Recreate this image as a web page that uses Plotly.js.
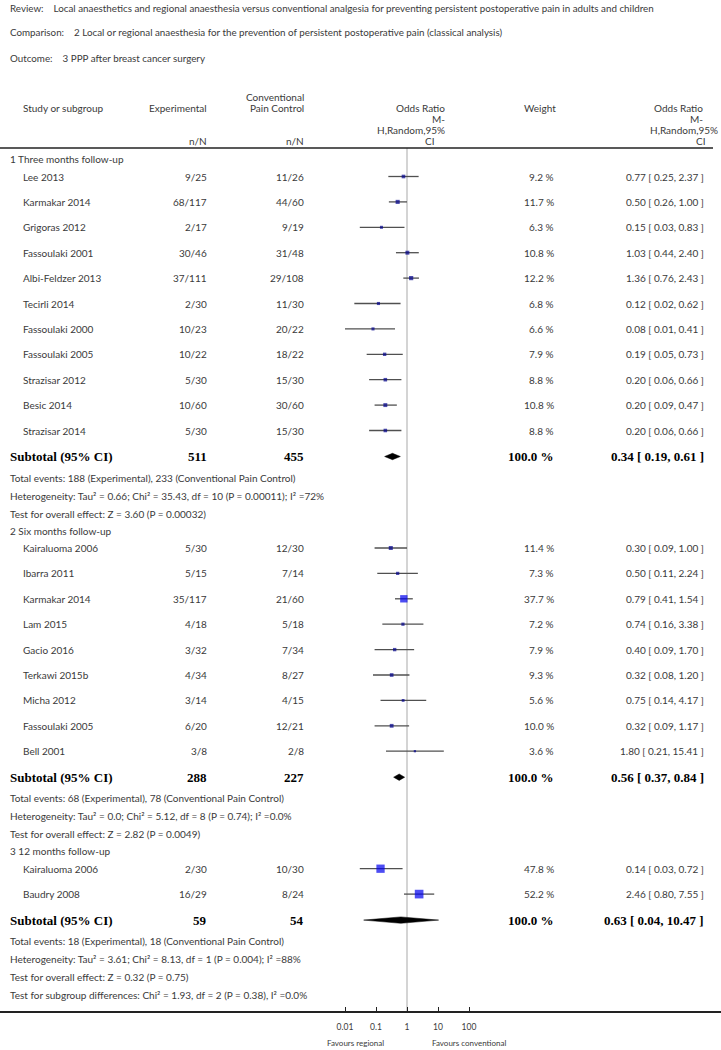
<!DOCTYPE html>
<html>
<head>
<meta charset="utf-8">
<script src="https://cdn.plot.ly/plotly-3.0.1.min.js"></script>
<style>
  html, body { margin: 0; padding: 0; background: #fff; }
  #plotDiv { width: 721px; height: 1050px; }
</style>
</head>
<body>
<div id="plotDiv"></div>
<script>
// ---- data ----
var reviewText = 'Local anaesthetics and regional anaesthesia versus conventional analgesia for preventing persistent postoperative pain in adults and children';
var comparisonText = '2 Local or regional anaesthesia for the prevention of persistent postoperative pain (classical analysis)';
var outcomeText = '3 PPP after breast cancer surgery';

var groupTitles = ['1 Three months follow-up', '2 Six months follow-up', '3 12 months follow-up'];

var studyGroup = [0,0,0,0,0,0,0,0,0,0,0, 1,1,1,1,1,1,1,1,1, 2,2];
var studyNames = ['Lee 2013','Karmakar 2014','Grigoras 2012','Fassoulaki 2001','Albi-Feldzer 2013','Tecirli 2014',
  'Fassoulaki 2000','Fassoulaki 2005','Strazisar 2012','Besic 2014','Strazisar 2014',
  'Kairaluoma 2006','Ibarra 2011','Karmakar 2014','Lam 2015','Gacio 2016','Terkawi 2015b','Micha 2012',
  'Fassoulaki 2005','Bell 2001',
  'Kairaluoma 2006','Baudry 2008'];
var expEvents = ['9/25','68/117','2/17','30/46','37/111','2/30','10/23','10/22','5/30','10/60','5/30',
  '5/30','5/15','35/117','4/18','3/32','4/34','3/14','6/20','3/8',
  '2/30','16/29'];
var ctrlEvents = ['11/26','44/60','9/19','31/48','29/108','11/30','20/22','18/22','15/30','30/60','15/30',
  '12/30','7/14','21/60','5/18','7/34','8/27','4/15','12/21','2/8',
  '10/30','8/24'];
var weights = [9.2,11.7,6.3,10.8,12.2,6.8,6.6,7.9,8.8,10.8,8.8,
  11.4,7.3,37.7,7.2,7.9,9.3,5.6,10.0,3.6,
  47.8,52.2];
var orEst = [0.77,0.50,0.15,1.03,1.36,0.12,0.08,0.19,0.20,0.20,0.20,
  0.30,0.50,0.79,0.74,0.40,0.32,0.75,0.32,1.80,
  0.14,2.46];
var orLow = [0.25,0.26,0.03,0.44,0.76,0.02,0.01,0.05,0.06,0.09,0.06,
  0.09,0.11,0.41,0.16,0.09,0.08,0.14,0.09,0.21,
  0.03,0.80];
var orHigh = [2.37,1.00,0.83,2.40,2.43,0.62,0.41,0.73,0.66,0.47,0.66,
  1.00,2.24,1.54,3.38,1.70,1.20,4.17,1.17,15.41,
  0.72,7.55];

var subExpTotal = [511, 288, 59];
var subCtrlTotal = [455, 227, 54];
var subEst = [0.34, 0.56, 0.63];
var subLow = [0.19, 0.37, 0.04];
var subHigh = [0.61, 0.84, 10.47];
var totalEventsText = [
  'Total events: 188 (Experimental), 233 (Conventional Pain Control)',
  'Total events: 68 (Experimental), 78 (Conventional Pain Control)',
  'Total events: 18 (Experimental), 18 (Conventional Pain Control)'];
var heterogeneityText = [
  'Heterogeneity: Tau² = 0.66; Chi² = 35.43, df = 10 (P = 0.00011); I² =72%',
  'Heterogeneity: Tau² = 0.0; Chi² = 5.12, df = 8 (P = 0.74); I² =0.0%',
  'Heterogeneity: Tau² = 3.61; Chi² = 8.13, df = 1 (P = 0.004); I² =88%'];
var overallEffectText = [
  'Test for overall effect: Z = 3.60 (P = 0.00032)',
  'Test for overall effect: Z = 2.82 (P = 0.0049)',
  'Test for overall effect: Z = 0.32 (P = 0.75)'];
var subgroupDiffText = 'Test for subgroup differences: Chi² = 1.93, df = 2 (P = 0.38), I² =0.0%';

var tickVals = [0.01, 0.1, 1, 10, 100];
var tickText = ['0.01', '0.1', '1', '10', '100'];

// ---- page layout (pixels) ----
var W = 721, H = 1050;
var SANS = 'Lato, "Open Sans", sans-serif';
var SERIF = '"Liberation Serif", "DejaVu Serif", serif';
var txtColor = '#3a3a3a';
var colName = 21, colGroup = 8, colExp = 209, colCtrl = 306, colWeight = 556, colEffect = 706;

var annotations = [];
function addText(x, y, text, anchor, font) {
  annotations.push({
    xref: 'paper', yref: 'y', x: x / W, y: y, text: text,
    xanchor: anchor, yanchor: 'middle', showarrow: false,
    font: font
  });
}
var fRow = {family: SANS, size: 10, color: txtColor};
var fHead = {family: SANS, size: 10, color: txtColor};
var fTitle = {family: SANS, size: 9.8, color: txtColor};
var fBold = {family: SERIF, size: 13, color: '#000', weight: 'bold'};
var fSmall = {family: SANS, size: 8, color: txtColor};

function fmt(v) { return v.toFixed(2); }
function effectText(e, l, h) { return fmt(e) + ' [ ' + fmt(l) + ', ' + fmt(h) + ' ]'; }

// titles
addText(8, 8, 'Review:    ' + reviewText, 'left', fTitle);
addText(8, 32, 'Comparison:    ' + comparisonText, 'left', fTitle);
addText(8, 58, 'Outcome:    ' + outcomeText, 'left', fTitle);

// column headers
addText(colName, 108, 'Study or subgroup', 'left', fHead);
addText(colExp, 108, 'Experimental', 'right', fHead);
addText(colCtrl, 97, 'Conventional', 'right', fHead);
addText(colCtrl, 108, 'Pain Control', 'right', fHead);
addText(colExp, 141, 'n/N', 'right', fHead);
addText(colCtrl, 141, 'n/N', 'right', fHead);
addText(447, 108, 'Odds Ratio', 'right', fHead);
addText(447, 119, 'M-', 'right', fHead);
addText(447, 130, 'H,Random,95%', 'right', fHead);
addText(430, 141, 'CI', 'center', fHead);
addText(540, 108, 'Weight', 'center', fHead);
addText(705, 108, 'Odds Ratio', 'right', fHead);
addText(705, 119, 'M-', 'right', fHead);
addText(720, 130, 'H,Random,95%', 'right', fHead);
addText(700, 141, 'CI', 'center', fHead);

// rows
var ciX = [], ciY = [];
var mkX = [], mkY = [], mkS = [], mkC = [];
var dmX = [], dmY = [];
var y = 159;
for (var g = 0; g < groupTitles.length; g++) {
  addText(colGroup, y, groupTitles[g], 'left', fRow);
  y += 17.5;
  var lastY = y;
  for (var i = 0; i < studyNames.length; i++) {
    if (studyGroup[i] !== g) continue;
    addText(colName, y, studyNames[i], 'left', fRow);
    addText(colExp, y, expEvents[i], 'right', fRow);
    addText(colCtrl, y, ctrlEvents[i], 'right', fRow);
    addText(colWeight, y, weights[i].toFixed(1) + ' %', 'right', fRow);
    addText(colEffect, y, effectText(orEst[i], orLow[i], orHigh[i]), 'right', fRow);
    ciX.push(orLow[i], orHigh[i], null); ciY.push(y, y, null);
    var s = 1.2 * Math.sqrt(weights[i]);
    mkX.push(orEst[i]); mkY.push(y); mkS.push(s);
    mkC.push(s < 6 ? '#00008b' : '#0000ee');
    lastY = y;
    y += 25.4;
  }
  var sy = lastY + 26;
  addText(colGroup, sy, 'Subtotal (95% CI)', 'left', fBold);
  addText(colExp, sy, String(subExpTotal[g]), 'right', fBold);
  addText(colCtrl, sy, String(subCtrlTotal[g]), 'right', fBold);
  addText(colWeight, sy, '100.0 %', 'right', fBold);
  addText(colEffect, sy, effectText(subEst[g], subLow[g], subHigh[g]), 'right', fBold);
  dmX.push(subLow[g], subEst[g], subHigh[g], subEst[g], subLow[g], null);
  dmY.push(sy, sy - 3.2, sy, sy + 3.2, sy, null);
  y = sy + 21;
  addText(colGroup, y, totalEventsText[g], 'left', fRow); y += 18;
  addText(colGroup, y, heterogeneityText[g], 'left', fRow); y += 18;
  addText(colGroup, y, overallEffectText[g], 'left', fRow);
  y += 17;
}
addText(colGroup, y + 0.5, subgroupDiffText, 'left', fRow);

var axisY = 1011;
addText(386, 1043, 'Favours regional', 'right', fSmall);
addText(430, 1043, 'Favours conventional', 'left', fSmall);

// ---- traces ----
var refLine = {
  type: 'scatter', mode: 'lines', x: [1, 1], y: [148, axisY],
  line: {color: '#b8b8b8', width: 1.2}, hoverinfo: 'skip', showlegend: false
};
var ciLines = {
  type: 'scatter', mode: 'lines', x: ciX, y: ciY,
  line: {color: '#505050', width: 1.3}, hoverinfo: 'skip', showlegend: false
};
var points = {
  type: 'scatter', mode: 'markers', x: mkX, y: mkY,
  marker: {symbol: 'square', size: mkS, color: mkC, line: {width: 0}},
  hoverinfo: 'skip', showlegend: false
};
var diamonds = {
  type: 'scatter', mode: 'lines', x: dmX, y: dmY, fill: 'toself',
  fillcolor: '#000', line: {color: '#000', width: 0.5},
  hoverinfo: 'skip', showlegend: false
};

var layout = {
  width: W, height: H, autosize: false,
  margin: {l: 0, r: 0, t: 0, b: 0, pad: 0},
  paper_bgcolor: '#fff', plot_bgcolor: '#fff',
  showlegend: false,
  xaxis: {
    type: 'log', range: [-407 / 31, (W - 407) / 31], domain: [0, 1],
    anchor: 'free', position: (H - axisY) / H,
    showgrid: false, zeroline: false, showline: true,
    linecolor: '#222', linewidth: 1.5,
    ticks: 'inside', ticklen: 4, tickwidth: 1, tickcolor: '#222',
    tickmode: 'array', tickvals: tickVals, ticktext: tickText,
    ticklabelstandoff: 7,
    tickfont: {family: SANS, size: 8.5, color: txtColor},
    fixedrange: true
  },
  yaxis: {
    range: [H, 0], domain: [0, 1], visible: false, fixedrange: true
  },
  shapes: [{
    type: 'line', xref: 'paper', yref: 'y', x0: 0, x1: 713 / W, y0: 148, y1: 148,
    line: {color: '#222', width: 1.6}
  }],
  annotations: annotations
};

Plotly.newPlot('plotDiv', [refLine, ciLines, diamonds, points], layout, {displayModeBar: false, staticPlot: true});
</script>
</body>
</html>
